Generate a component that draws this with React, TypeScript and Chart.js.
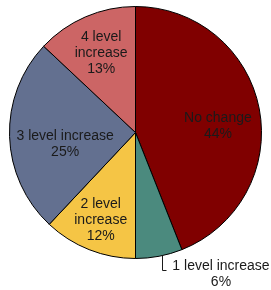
import React, { useEffect, useRef } from "react";
import { Chart, registerables } from "chart.js";

Chart.register(...registerables);

const categories = ["No change", "1 level increase", "2 level increase", "3 level increase", "4 level increase"];
const values = [44, 6, 12, 25, 13];
const percentLabels = ["44%", "6%", "12%", "25%", "13%"];
const labelLines = [["No change"], ["1 level increase"], ["2 level", "increase"], ["3 level increase"], ["4 level", "increase"]];
const colors = ["#800000", "#4B8A7E", "#F5C545", "#637090", "#CC6565"];
const labelRadius = [0.656, 1.0, 0.75, 0.566, 0.686];
const labelAngleShift = [6.3, -1.5, 0, -7.5, 0];
const labelOutside = [false, true, false, false, false];

const FONT = '14px "Liberation Sans", Arial, sans-serif';
const LINE_H = 16;

const labelPlugin = {
  id: "sliceLabels",
  afterDatasetsDraw(chart: any) {
    const ctx = chart.ctx;
    const meta = chart.getDatasetMeta(0);
    ctx.save();
    ctx.font = FONT;
    ctx.fillStyle = "#1a1a1a";
    ctx.textBaseline = "middle";
    meta.data.forEach((arc: any, i: number) => {
      const { x, y, startAngle, endAngle, outerRadius } = arc.getProps(["x", "y", "startAngle", "endAngle", "outerRadius"], true);
      const mid = (startAngle + endAngle) / 2 + (labelAngleShift[i] * Math.PI) / 180;
      const r = outerRadius * labelRadius[i];
      const px = x + Math.cos(mid) * r;
      const py = y + Math.sin(mid) * r;
      const lines = [...labelLines[i], percentLabels[i]];
      if (!labelOutside[i]) {
        ctx.textAlign = "center";
        const top = py - ((lines.length - 1) * LINE_H) / 2;
        lines.forEach((t, k) => ctx.fillText(t, px, top + k * LINE_H));
      } else {
        const cornerY = py + 14;
        const cornerX = px;
        ctx.strokeStyle = "#1a1a1a";
        ctx.lineWidth = 1;
        ctx.beginPath();
        ctx.moveTo(Math.round(px) + 0.5, py);
        ctx.lineTo(Math.round(cornerX) + 0.5, Math.round(cornerY) + 0.5);
        ctx.lineTo(Math.round(cornerX) + 4.5, Math.round(cornerY) + 0.5);
        ctx.stroke();
        const w = ctx.measureText(lines[0]).width;
        const cx = cornerX + 10 + w / 2;
        ctx.textAlign = "center";
        ctx.fillText(lines[0], cx, cornerY - 3);
        ctx.fillText(lines[1], cx, cornerY - 3 + LINE_H);
      }
    });
    ctx.restore();
  },
};

export default function App() {
  const ref = useRef<HTMLCanvasElement | null>(null);
  useEffect(() => {
    if (!ref.current) return;
    const chart = new Chart(ref.current, {
      type: "pie",
      data: {
        labels: categories,
        datasets: [
          {
            data: values,
            backgroundColor: colors,
            borderColor: "#000000",
            borderWidth: 1,
          },
        ],
      },
      options: {
        responsive: false,
        animation: false,
        devicePixelRatio: 1,
        layout: { padding: { top: 6, bottom: 31, left: 9, right: 9 } },
        plugins: {
          legend: { display: false },
          tooltip: { enabled: false },
        },
      },
      plugins: [labelPlugin],
    });
    return () => chart.destroy();
  }, []);
  return (
    <div style={{ position: "fixed", left: 0, top: 0, width: 271, height: 290, background: "#fff" }}>
      <canvas ref={ref} width={271} height={290} />
    </div>
  );
}
